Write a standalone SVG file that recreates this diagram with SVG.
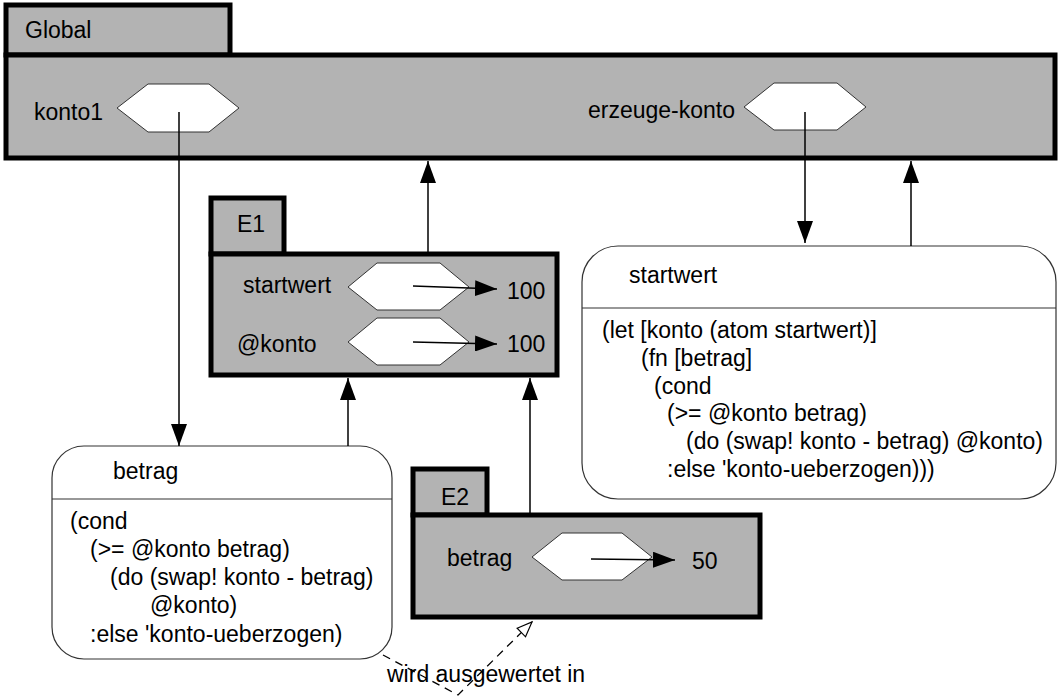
<svg xmlns="http://www.w3.org/2000/svg" width="1061" height="699" viewBox="0 0 1061 699">
<style>
text{font-family:"Liberation Sans",Arial,sans-serif;font-size:23px;fill:#000}
.frame{fill:#b3b3b3;stroke:#000;stroke-width:5;stroke-linejoin:miter}
.hex{fill:#fff;stroke:#333;stroke-width:1}
.box{fill:#fff;stroke:#333;stroke-width:1.2}
.div{stroke:#333;stroke-width:1.2}
.con{fill:none;stroke:#000;stroke-width:1.5}
.dash{fill:none;stroke:#000;stroke-width:1.3;stroke-dasharray:8,6}
</style>
<defs>
<marker id="ah" markerUnits="userSpaceOnUse" markerWidth="22" markerHeight="16" refX="22" refY="8" orient="auto">
<path d="M0,0 L22,8 L0,16 z" fill="#000"/>
</marker>
<marker id="oh" markerUnits="userSpaceOnUse" markerWidth="18" markerHeight="14" refX="16" refY="7" orient="auto">
<path d="M1,1 L16,7 L1,13 z" fill="#fff" stroke="#000" stroke-width="1.2"/>
</marker>
</defs>

<g id="global">
<rect class="frame" x="6" y="5" width="224" height="50"/>
<rect class="frame" x="6" y="55" width="1049" height="103"/>
<text x="25" y="38">Global</text>
<text x="34" y="120">konto1</text>
<polygon class="hex" points="117,108 148,84 209,84 239,108 209,132 148,132"/>
<text x="588" y="118">erzeuge-konto</text>
<polygon class="hex" points="744,107 774,83 837,83 866,107 837,130 774,130"/>
</g>

<g id="e1">
<rect class="frame" x="211" y="198" width="73" height="56"/>
<rect class="frame" x="211" y="254" width="346" height="121"/>
<text x="237" y="232">E1</text>
<text x="243" y="293">startwert</text>
<polygon class="hex" points="348,287 377,263 440,263 469,287 440,310 377,310"/>
<text x="507" y="299">100</text>
<text x="237" y="352">@konto</text>
<polygon class="hex" points="348,342 377,318 440,318 469,342 440,365 377,365"/>
<text x="507" y="352">100</text>
</g>

<g id="e2">
<rect class="frame" x="413" y="469" width="74" height="46"/>
<rect class="frame" x="413" y="515" width="347" height="102"/>
<text x="441" y="505">E2</text>
<text x="447" y="566">betrag</text>
<polygon class="hex" points="532,557 562,533 622,533 652,557 622,580 562,580"/>
<text x="692" y="569">50</text>
</g>

<g id="fn-betrag">
<rect class="box" x="52" y="446" width="340" height="213" rx="32" ry="32"/>
<line class="div" x1="52" y1="499" x2="392" y2="499"/>
<text x="113" y="479">betrag</text>
<text x="70" y="529">(cond</text>
<text x="90" y="557">(&gt;= @konto betrag)</text>
<text x="110" y="585">(do (swap! konto - betrag)</text>
<text x="150" y="613">@konto)</text>
<text x="90" y="642">:else 'konto-ueberzogen)</text>
</g>

<g id="fn-startwert">
<rect class="box" x="582" y="246" width="474" height="253" rx="36" ry="36"/>
<line class="div" x1="582" y1="308" x2="1056" y2="308"/>
<text x="629" y="283">startwert</text>
<text x="602" y="338">(let [konto (atom startwert)]</text>
<text x="641" y="366">(fn [betrag]</text>
<text x="654" y="394">(cond</text>
<text x="667" y="421">(&gt;= @konto betrag)</text>
<text x="686" y="449">(do (swap! konto - betrag) @konto)</text>
<text x="667" y="477">:else 'konto-ueberzogen)))</text>
</g>

<g id="connectors">
<line class="con" x1="179" y1="112" x2="179" y2="446" marker-end="url(#ah)"/>
<line class="con" x1="805" y1="112" x2="805" y2="243" marker-end="url(#ah)"/>
<line class="con" x1="911" y1="246" x2="911" y2="161" marker-end="url(#ah)"/>
<line class="con" x1="428" y1="254" x2="428" y2="161" marker-end="url(#ah)"/>
<line class="con" x1="348" y1="446" x2="348" y2="378" marker-end="url(#ah)"/>
<line class="con" x1="530" y1="515" x2="530" y2="378" marker-end="url(#ah)"/>
<line class="con" x1="413" y1="286" x2="497" y2="289" marker-end="url(#ah)"/>
<line class="con" x1="413" y1="342" x2="497" y2="344" marker-end="url(#ah)"/>
<line class="con" x1="591" y1="559" x2="675" y2="560" marker-end="url(#ah)"/>
<polyline class="dash" points="383,655 458,695 532,622" marker-end="url(#oh)"/>
<text x="387" y="682">wird ausgewertet in</text>
</g>
</svg>
